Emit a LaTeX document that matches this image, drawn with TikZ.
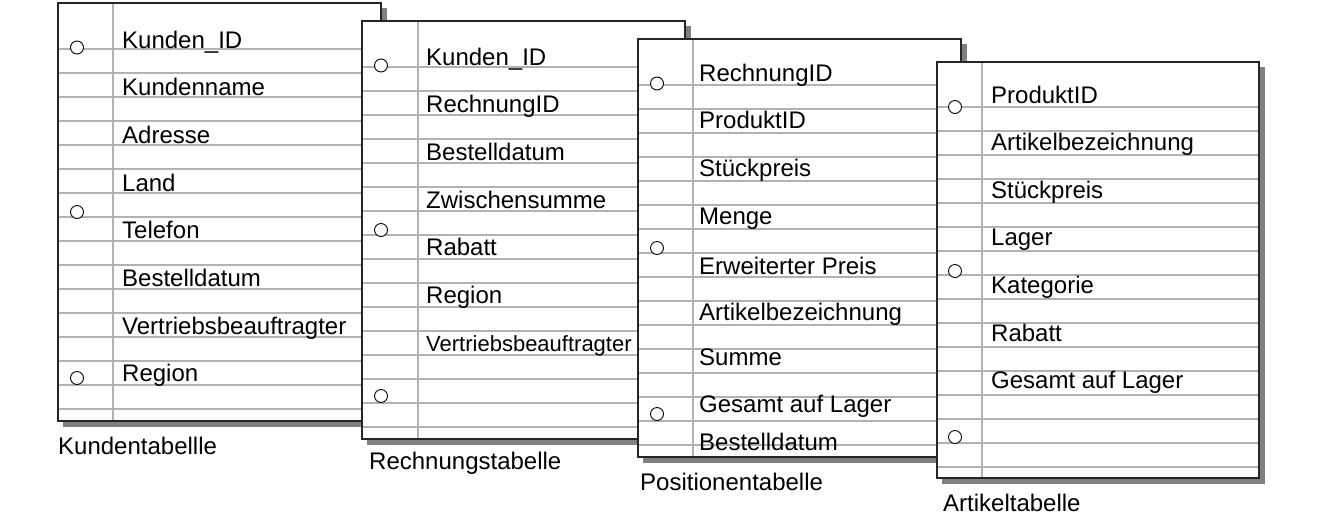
\documentclass[tikz,border=0pt]{standalone}
\usepackage{fontspec}
\setmainfont{Liberation Sans}

\begin{document}
\begin{tikzpicture}[x=1pt,y=-1pt,
      schatten/.style={fill=black!50},
      blatt/.style={draw=black!85,line width=1.2pt},
      linie/.style={draw=black!30,line width=1.4pt},
      loch/.style={draw=black,fill=white,line width=0.9pt},
      feld/.style={anchor=base west,inner sep=0pt,font=\fontsize{24}{28}\selectfont},
      titel/.style={anchor=west,inner sep=0pt,font=\fontsize{24}{28}\selectfont}
      ]
      \useasboundingbox (0,0) rectangle (1343,528);
      % Kundentabelle
      \begin{scope}[shift={(58,3)}]
        \fill[schatten] (5,5) rectangle (329,424);
        \fill[white] (0,0) rectangle (323,418);
        \foreach \y in {46,70,...,406} \draw[linie] (0,\y) -- (323,\y);
        \draw[linie] (55,0) -- (55,418);
        \foreach \y in {44.5,209,375} \draw[loch] (19,\y) circle (6.5pt);
        \draw[blatt] (0,0) rectangle (323,418);
        \foreach \t [count=\i] in {Kunden\_ID,Kundenname,Adresse,Land,Telefon,Bestelldatum,Vertriebsbeauftragter,Region}
          \node[feld] (kunde\i) at (64,{45+47.7*(\i-1)}) {\t};
      \end{scope}
      \node[titel] (kundentab) at (58,446) {Kundentabellle};
      % Rechnungstabelle
      \begin{scope}[shift={(362,21)}]
        \fill[schatten] (5,5) rectangle (329,424);
        \fill[white] (0,0) rectangle (323,418);
        \foreach \y in {46,70,...,406} \draw[linie] (0,\y) -- (323,\y);
        \draw[linie] (56,0) -- (56,418);
        \foreach \y in {44.5,209,375} \draw[loch] (19,\y) circle (6.5pt);
        \draw[blatt] (0,0) rectangle (323,418);
        \foreach \t [count=\i] in {Kunden\_ID,RechnungID,Bestelldatum,Zwischensumme,Rabatt,Region}
          \node[feld] (rech\i) at (64,{44+47.7*(\i-1)}) {\t};
        \node[feld,font=\fontsize{22}{26}\selectfont] (rech7) at (64,330) {Vertriebsbeauftragter};
      \end{scope}
      \node[titel] (rechtab) at (369,463) {Rechnungstabelle};
      % Positionentabelle
      \begin{scope}[shift={(638,39)}]
        \fill[schatten] (5,5) rectangle (329,424);
        \fill[white] (0,0) rectangle (323,418);
        \foreach \y in {46,70,...,406} \draw[linie] (0,\y) -- (323,\y);
        \draw[linie] (55,0) -- (55,418);
        \foreach \y in {44.5,209,375} \draw[loch] (19,\y) circle (6.5pt);
        \draw[blatt] (0,0) rectangle (323,418);
        \foreach \t/\y [count=\i] in {RechnungID/42,ProduktID/89,St\"uckpreis/137,Menge/185,Erweiterter Preis/235,Artikelbezeichnung/281,Summe/326,Gesamt auf Lager/373,Bestelldatum/411}
          \node[feld] (pos\i) at (61,\y) {\t};
      \end{scope}
      \node[titel] (postab) at (640,482) {Positionentabelle};
      % Artikeltabelle
      \begin{scope}[shift={(937,62)}]
        \fill[schatten] (5,5) rectangle (328,422);
        \fill[white] (0,0) rectangle (322,416);
        \foreach \y in {45,69,...,405} \draw[linie] (0,\y) -- (322,\y);
        \draw[linie] (45,0) -- (45,416);
        \foreach \y in {45,209,375} \draw[loch] (18,\y) circle (6.5pt);
        \draw[blatt] (0,0) rectangle (322,416);
        \foreach \t [count=\i] in {ProduktID,Artikelbezeichnung,St\"uckpreis,Lager,Kategorie,Rabatt,Gesamt auf Lager}
          \node[feld] (art\i) at (54,{41+47.6*(\i-1)}) {\t};
      \end{scope}
      \node[titel] (arttab) at (943,503) {Artikeltabelle};
    \end{tikzpicture}
\end{document}
